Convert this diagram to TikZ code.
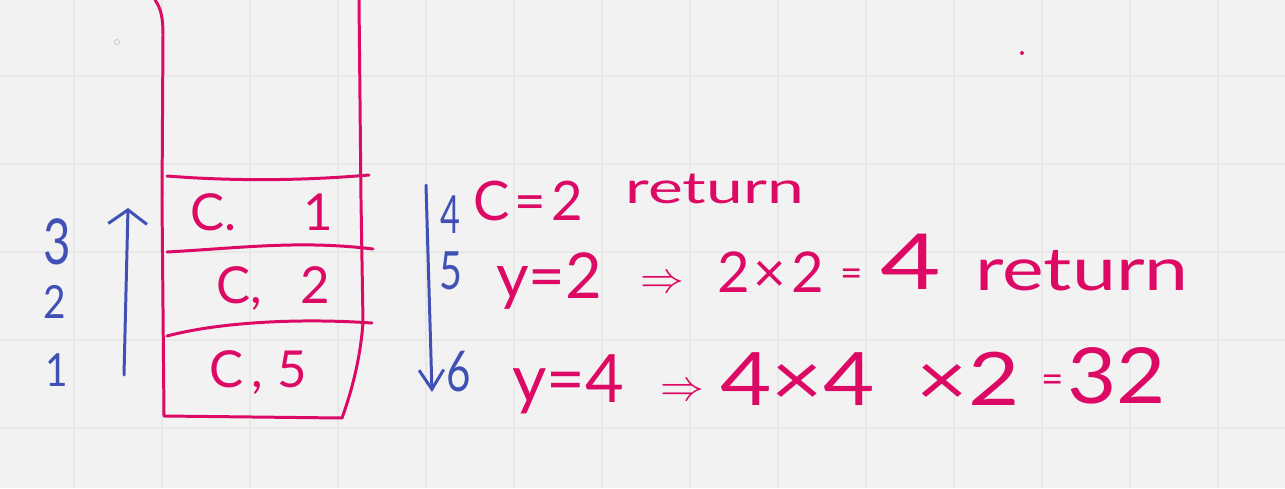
\documentclass[tikz,border=0pt]{standalone}
\usepackage{fontspec}
\setmainfont{Lato}
\usepackage{xcolor}
\usepackage{tikz}
\usetikzlibrary{arrows.meta}
\definecolor{kpink}{HTML}{DC0A64}
\definecolor{kblue}{HTML}{4050B5}
\definecolor{kpaper}{HTML}{F2F2F2}
\definecolor{kgrid}{HTML}{E8E8E8}
\newcommand{\inksize}[1]{\fontsize{#1}{#1}\selectfont}

\begin{document}
\begin{tikzpicture}[x=0.02cm, y=-0.02cm,
  pinkline/.style={draw=kpink, line width=1.7pt, line cap=round, line join=round},
  blueline/.style={draw=kblue, line width=1.7pt, line cap=round, line join=round},
  ink/.style={text=kpink, inner sep=0pt},
  blueink/.style={text=kblue, inner sep=0pt}]
\useasboundingbox (0,0) rectangle (1285,488);
\fill[kpaper] (0,0) rectangle (1285,488);
\foreach \gx in {74,162,...,1218}
  \draw[kgrid, line width=0.6pt] (\gx,0) -- (\gx,488);
\foreach \gy in {76,164,...,428}
  \draw[kgrid, line width=0.6pt] (0,\gy) -- (1285,\gy);
\draw[gray!40, line width=0.5pt] (117,42) circle (2.5);
\fill[kpink] (1022,53) circle (2);
% the stack
\draw[pinkline] (155,0) .. controls (161,8) and (163,18) .. (163,35)
  -- (162,200) -- (164,416) -- (342,418)
  .. controls (354,385) and (361,352) .. (363,322) -- (361,200) -- (359,0);
\draw[pinkline] (167,176) .. controls (230,181) and (300,181) .. (369,175);
\draw[pinkline] (167,252) .. controls (240,248) and (300,240) .. (373,249);
\draw[pinkline] (167,336) .. controls (220,322) and (300,318) .. (372,323);
\node[ink, font=\inksize{29}] (frame1) at (262,212) {C.\hspace{38pt}1};
\node[ink, font=\inksize{29}] (frame2) at (273,288) {C,\hspace{22pt}2};
\node[ink, font=\inksize{29}] (frame3) at (258,372) {C\hspace{5pt},\hspace{8pt}5};
% call order
\node[blueink, font=\inksize{36}, xscale=0.75] (up3) at (57,242) {3};
\node[blueink, font=\inksize{26}, xscale=0.85] (up2) at (55,302) {2};
\node[blueink, font=\inksize{26}, xscale=0.85] (up1) at (57,370) {1};
\coordinate (upS) at (124,375);
\coordinate (upE) at (128,208);
\draw[blueline, -{Straight Barb[length=8pt, width=22pt]}] (upS) -- (upE);
% return order
\coordinate (downS) at (426,185);
\coordinate (downE) at (432,392);
\draw[blueline, -{Straight Barb[length=11pt, width=14pt]}] (downS) -- (downE);
\node[blueink, font=\inksize{30}, xscale=0.65] (ret4) at (450,215) {4};
\node[blueink, font=\inksize{30}, xscale=0.75] (ret5) at (451,271) {5};
\node[blueink, font=\inksize{32}, xscale=0.75] (ret6) at (459,372) {6};
% line 4
\node[ink, font=\inksize{31}, anchor=base west] (c2) at (473,220) {C\hspace{3pt}=\hspace{3pt}2};
\node[ink, font=\inksize{25}, anchor=base west, xscale=1.5] (c2ret) at (625,203) {return};
% line 5
\node[ink, font=\inksize{36}, anchor=base west] (y2) at (496,298) {y=2};
\node[ink, font=\inksize{24}, anchor=base west] (y2then) at (640,292) {$\Rightarrow$};
\node[ink, font=\inksize{32}, anchor=base west] (y2prod) at (717,292) {2\hspace{2pt}×\hspace{3pt}2};
\node[ink, font=\inksize{22}, anchor=base west] (y2eq) at (840,286) {=};
\node[ink, font=\inksize{44}, anchor=base west, xscale=1.35] (y2res) at (880,289) {4};
\node[ink, font=\inksize{34}, anchor=base west, xscale=1.32] (y2ret) at (975,290) {return};
% line 6
\node[ink, font=\inksize{38}, anchor=base west] (y4) at (512,402) {y=4};
\node[ink, font=\inksize{34}, anchor=base west] (y4then) at (660,400) {$\Rightarrow$};
\node[ink, font=\inksize{42}, anchor=base west, xscale=1.2] (y4prod) at (720,405) {4×4\hspace{20pt}×2};
\node[ink, font=\inksize{22}, anchor=base west] (y4eq) at (1041,392) {=};
\node[ink, font=\inksize{44}, anchor=base west, xscale=1.1] (y4res) at (1067,403) {32};
\end{tikzpicture}
\end{document}
